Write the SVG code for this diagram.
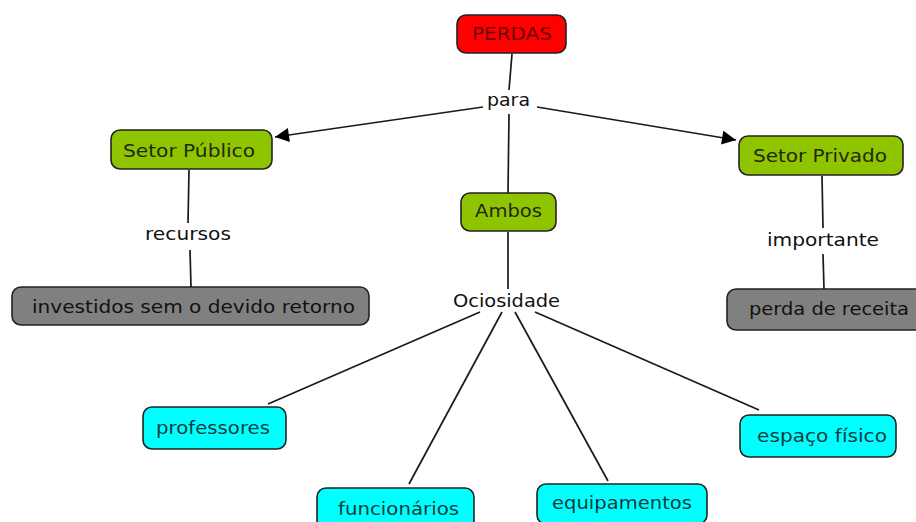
<svg xmlns="http://www.w3.org/2000/svg" width="916" height="522" viewBox="0 0 916 522">
<style>
text{font-family:"DejaVu Sans","Noto Sans",sans-serif;font-size:17.5px;text-anchor:middle}
.n rect{stroke:#222;stroke-width:1.6}
.red rect{fill:#ff0000}
.red text{fill:#6a0000}
.green rect{fill:#8fc400}
.green text{fill:#1e2a0c}
.gray rect{fill:#808080}
.gray text{fill:#111}
.cyan rect{fill:#00ffff}
.cyan text{fill:#123c3c}
.lbl{fill:#111}
.c line{stroke:#1a1a1a;stroke-width:1.7;fill:none}
</style>
<defs>
<marker id="ah" viewBox="0 0 10 10" refX="10" refY="5" markerWidth="20" markerHeight="14" markerUnits="userSpaceOnUse" orient="auto">
<path d="M0,0 L10,5 L0,10 z" fill="#000"/>
</marker>
</defs>
<rect width="916" height="522" fill="#fff"/>
<g id="connectors" class="c">
<line x1="512" y1="54" x2="509" y2="90"/>
<line x1="483" y1="107" x2="275" y2="137" marker-end="url(#ah)"/>
<line x1="537" y1="107" x2="736" y2="140" marker-end="url(#ah)"/>
<line x1="509" y1="114" x2="508" y2="193"/>
<line x1="189" y1="170" x2="188" y2="223"/>
<line x1="190" y1="250" x2="191" y2="287"/>
<line x1="822" y1="176" x2="823" y2="228"/>
<line x1="823" y1="254" x2="824" y2="289"/>
<line x1="508" y1="232" x2="508" y2="289"/>
<line x1="480" y1="312" x2="268" y2="404"/>
<line x1="502" y1="312" x2="409" y2="484"/>
<line x1="515" y1="312" x2="608" y2="481"/>
<line x1="535" y1="312" x2="759" y2="410"/>
</g>
<g id="lbl-para"><rect x="484" y="90" width="50" height="24" fill="#fff"/><text class="lbl" x="508.5" y="106" textLength="43" lengthAdjust="spacingAndGlyphs">para</text></g>
<g id="lbl-recursos"><text class="lbl" x="188" y="240" textLength="86" lengthAdjust="spacingAndGlyphs">recursos</text></g>
<g id="lbl-importante"><text class="lbl" x="823" y="246" textLength="112" lengthAdjust="spacingAndGlyphs">importante</text></g>
<g id="lbl-ociosidade"><text class="lbl" x="506.5" y="307" textLength="107" lengthAdjust="spacingAndGlyphs">Ociosidade</text></g>
<g id="perdas" class="n red"><rect x="457" y="15" width="109" height="38" rx="9"/><text x="512" y="40" textLength="80" lengthAdjust="spacingAndGlyphs">PERDAS</text></g>
<g id="setor-publico" class="n green"><rect x="111" y="130" width="161" height="39" rx="9"/><text x="189" y="157" textLength="132" lengthAdjust="spacingAndGlyphs">Setor Público</text></g>
<g id="setor-privado" class="n green"><rect x="739" y="136" width="164" height="39" rx="9"/><text x="820" y="162" textLength="134" lengthAdjust="spacingAndGlyphs">Setor Privado</text></g>
<g id="ambos" class="n green"><rect x="461" y="193" width="95" height="38" rx="9"/><text x="508.5" y="217" textLength="67" lengthAdjust="spacingAndGlyphs">Ambos</text></g>
<g id="investidos" class="n gray"><rect x="12" y="287" width="357" height="38" rx="9"/><text x="193.5" y="313" textLength="323" lengthAdjust="spacingAndGlyphs">investidos sem o devido retorno</text></g>
<g id="perda-receita" class="n gray"><rect x="727" y="289" width="200" height="41" rx="9"/><text x="829" y="315" textLength="160" lengthAdjust="spacingAndGlyphs">perda de receita</text></g>
<g id="professores" class="n cyan"><rect x="143" y="407" width="143" height="42" rx="9"/><text x="213" y="434" textLength="114" lengthAdjust="spacingAndGlyphs">professores</text></g>
<g id="funcionarios" class="n cyan"><rect x="317" y="488" width="157" height="42" rx="9"/><text x="398.5" y="515" textLength="121" lengthAdjust="spacingAndGlyphs">funcionários</text></g>
<g id="equipamentos" class="n cyan"><rect x="537" y="484" width="170" height="40" rx="9"/><text x="622" y="509" textLength="140" lengthAdjust="spacingAndGlyphs">equipamentos</text></g>
<g id="espaco-fisico" class="n cyan"><rect x="740" y="415" width="156" height="42" rx="9"/><text x="822" y="442" textLength="130" lengthAdjust="spacingAndGlyphs">espaço físico</text></g>
</svg>
